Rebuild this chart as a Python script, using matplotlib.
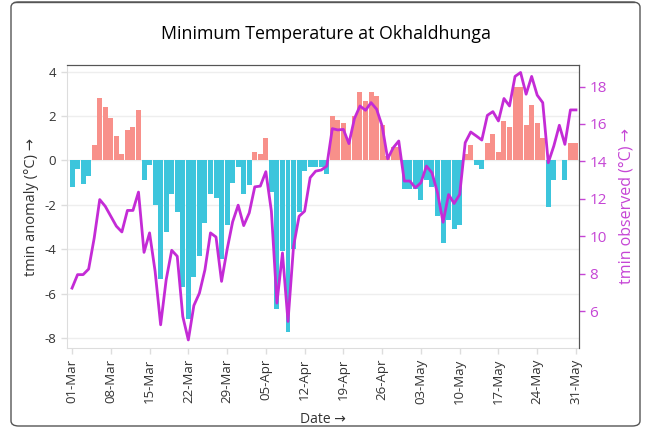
import matplotlib
matplotlib.use("Agg")
import matplotlib.pyplot as plt
from matplotlib.patches import FancyBboxPatch
import numpy as np
import pandas as pd

dates = pd.date_range("2024-03-01", "2024-05-31", freq="D")
tick_labels = ["01-Mar", "08-Mar", "15-Mar", "22-Mar", "29-Mar", "05-Apr", "12-Apr",
               "19-Apr", "26-Apr", "03-May", "10-May", "17-May", "24-May", "31-May"]

anomaly = [-1.2, -0.4, -1.08, -0.69, 0.69, 2.8, 2.39, 1.89, 1.11, 0.27,
           1.38, 1.49, 2.29, -0.89, -0.21, -2.01, -5.32, -3.22, -1.5, -2.32,
           -5.71, -7.13, -5.23, -4.32, -2.81, -1.5, -1.71, -4.42, -2.89, -1.01,
           -0.3, -1.5, -1.11, 0.39, 0.27, 0.99, -1.41, -6.71, -4.09, -7.71,
           -4.0, -2.32, -0.48, -0.3, -0.3, -0.3, -0.6, 2.0, 1.8, 1.7,
           0.9, 2.0, 3.1, 2.68, 3.1, 2.89, 1.59, 0.2, 0.62, 0.62,
           -1.29, -1.29, -1.29, -1.8, -0.89, -1.2, -2.5, -3.7, -2.69, -3.1,
           -2.89, 0.27, 0.69, -0.21, -0.39, 0.77, 1.17, 0.39, 1.79, 1.49,
           3.29, 3.29, 1.59, 2.48, 1.7, 0.99, -2.1, -0.89, 0.0, -0.89,
           0.77, 0.77]

observed = [7.23, 7.95, 7.95, 8.25, 9.9, 11.96, 11.6, 11.07, 10.54, 10.23,
            11.38, 11.38, 12.36, 9.14, 10.18, 8.13, 5.27, 7.68, 9.25, 8.93,
            5.71, 4.46, 6.3, 6.96, 8.21, 10.18, 9.96, 7.59, 9.29, 10.77,
            11.66, 10.57, 11.25, 12.64, 12.68, 13.45, 11.34, 6.43, 9.11, 5.45,
            9.46, 11.07, 11.34, 13.13, 13.48, 13.54, 13.75, 15.75, 15.68, 15.71,
            14.95, 16.29, 16.96, 16.73, 17.14, 16.79, 15.89, 14.14, 14.73, 15.09,
            12.95, 12.95, 12.59, 12.86, 13.75, 13.39, 12.32, 10.75, 12.23, 11.75,
            12.23, 15.0, 15.57, 15.36, 15.14, 16.46, 16.66, 16.16, 17.36, 16.96,
            18.54, 18.75, 17.59, 18.54, 17.54, 17.14, 13.93, 14.82, 15.93, 14.91,
            16.75, 16.75]

plt.rcParams["font.family"] = ["Open Sans", "DejaVu Sans"]

POS = "#F8908A"
NEG = "#3CC5DC"
LINE = "#C42BD6"
RLAB = "#C545D5"

fig = plt.figure(figsize=(6.48, 4.30), dpi=100)
W, H = 648, 430

# outer rounded box
box = FancyBboxPatch((11 / W, 4 / H), (640 - 11) / W, (428 - 4) / H,
                     boxstyle="round,pad=0,rounding_size=0.012",
                     transform=fig.transFigure, fill=False,
                     edgecolor="#555555", linewidth=1.0)
fig.patches.append(box)
fig.add_artist(plt.Line2D([14 / W, 634 / W], [1 - 1.5 / H, 1 - 1.5 / H],
                          transform=fig.transFigure, color="#555555", lw=1.0))

ax = fig.add_axes([66.5 / W, 1 - 348 / H, (579 - 66.5) / W, (348 - 65) / H])
x = np.arange(len(dates))
an = np.array(anomaly)
colors = [POS if v >= 0 else NEG for v in an]
ax.bar(x, an, width=0.9, color=colors, edgecolor="none", zorder=2)

ax.set_xlim(-1.0, len(dates) - 0.45)
ax.set_ylim(-8.45, 4.3)
ax.set_yticks([-8, -6, -4, -2, 0, 2, 4])
ax.set_yticklabels(["-8", "-6", "-4", "-2", "0", "2", "4"])
ax.grid(axis="y", color="#EEEEEE", lw=1.0, zorder=0)
ax.set_axisbelow(True)

label_dates = [d.strftime("%d-%b") for d in dates]
tick_pos = [label_dates.index(t) for t in tick_labels]
ax.set_xticks(tick_pos)
ax.set_xticklabels(tick_labels, rotation=90)

ax.tick_params(axis="both", colors="#DDDDDD", labelcolor="#333333", labelsize=9.5,
               length=4, width=1)
for s in ["left", "bottom"]:
    ax.spines[s].set_color("#DDDDDD")
for s in ["top", "right"]:
    ax.spines[s].set_color("#555555")

ax.set_ylabel("tmin anomaly (°C) →", fontsize=10.5, color="#333333", labelpad=4)
ax.set_xlabel("Date →", fontsize=10, color="#333333", labelpad=6)

ax2 = ax.twinx()
ax2.plot(x, observed, color=LINE, lw=2.0, zorder=3)
ax2.set_ylim(4.03, 19.15)
ax2.set_yticks([6, 8, 10, 12, 14, 16, 18])
ax2.tick_params(axis="y", colors=RLAB, labelcolor=RLAB, labelsize=11, length=4, width=1)
ax2.set_ylabel("tmin observed (°C) →", fontsize=11.5, color=RLAB, labelpad=8)
for s in ["left", "bottom"]:
    ax2.spines[s].set_visible(False)
ax2.spines["top"].set_color("#555555")
ax2.spines["right"].set_color("#555555")

fig.text(0.503, 1 - 34 / H, "Minimum Temperature at Okhaldhunga", ha="center",
         va="center", fontsize=12.8, color="#000000", fontweight="medium")

fig.savefig("out.png", dpi=100)
